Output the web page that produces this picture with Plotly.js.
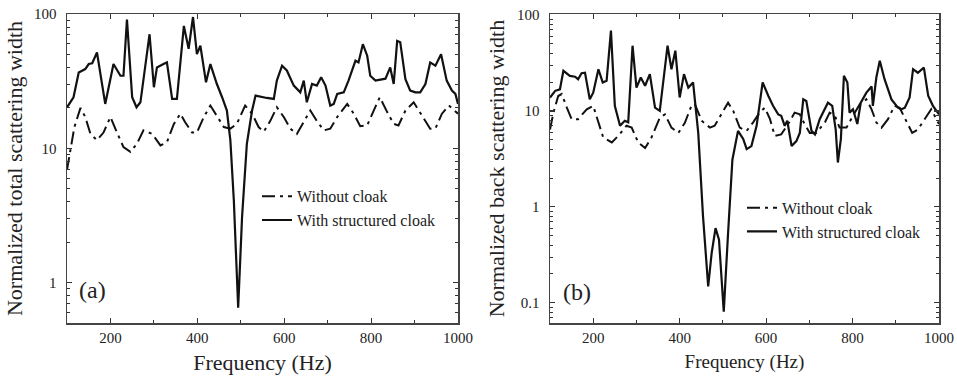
<!DOCTYPE html>
<html><head><meta charset="utf-8">
<script src="https://cdn.plot.ly/plotly-3.0.1.min.js"></script>
<style>body{margin:0;background:#fff}#chart{width:957px;height:377px}</style>
</head><body><div id="chart"></div><script>
// Panel (a): normalized total scattering width
const totFreqWith = [100,115,127,142,150,158,169,188,207,223,230,238,250,260,269,290,300,307,322,330,342,353,369,380,390,399,407,420,430,445,457,468,476,484,494,503,514,526,534,549,560,576,583,595,606,622,637,645,652,664,675,685,695,706,714,722,737,748,764,771,781,791,798,810,825,833,844,852,860,867,879,890,902,913,925,936,948,961,974,986,994,1000];
const totWith = [20.2,24,36.7,38.9,42.4,43,51.7,21.4,42.4,34.7,34.7,91,24,20.2,22,70.7,28.5,40,42.4,43.6,23.3,23.3,81.5,55,95,50.2,58,31,42.4,30.1,24,19.1,11.5,4.1,0.65,3.1,10.8,19.1,24.7,24,23.7,23.3,31.9,41.2,38,29.3,26.1,31.9,22,30.1,29.3,33.8,29.3,20.8,21.4,25.4,26.1,31.9,44.9,43.6,59.6,48.9,34.7,31.9,32.7,33,40,30.1,63.1,61.7,32.7,26.9,26.1,26.1,30.1,43.6,41.2,50.2,31.9,26.9,25.4,21.4];
const totFreqWithout = [100,109,117,131,142,154,169,184,200,215,230,246,261,276,296,315,330,346,361,372,388,399,415,430,445,461,476,491,510,526,541,553,568,583,599,614,629,645,660,675,691,706,722,745,760,775,791,806,820,837,852,863,879,898,917,936,948,963,979,1000];
const totWithout = [6.9,10.2,14.4,20,17.1,12.8,11.5,13.1,17.1,13.1,10.2,9.4,10.8,13.6,12.8,10.5,11.1,15.2,18.1,15.6,13.1,13.1,17.1,20.8,17.6,14.4,14,15.2,20.8,18.1,14.4,13.3,16,20.2,17.1,14,12.8,15.6,19.1,16,13.6,14,17.1,21.4,18.1,14.6,14.8,19.1,24,18.6,15.2,14.8,19.1,22,17.6,14,14,18.1,20.8,18.1];

// Panel (b): normalized back scattering width
const backFreqWith = [100,112,123,131,146,158,165,173,181,192,200,212,222,231,241,250,262,273,281,291,300,310,320,331,343,354,372,381,390,400,410,420,431,443,454,466,474,483,491,502,512,522,535,547,555,566,578,592,605,616,628,635,643,649,659,670,678,686,693,705,713,724,743,753,761,766,773,780,788,793,801,811,819,832,844,847,855,863,874,890,905,913,921,932,940,951,965,975,986,1000];
const backWith = [13.8,16.2,16.8,26.2,23.2,22.7,21.4,24.7,25,13.2,15.5,27.2,19.8,20.6,68.6,11.3,7,7.9,7.6,47.8,17.5,22.3,18.3,24.2,10.8,10,47.8,27.2,42.4,13.8,24.2,17.5,19.8,5.9,0.8,0.148,0.33,0.6,0.455,0.081,0.535,3.1,6.2,5.1,4,4.3,7,19.8,14.4,11.3,9.2,8.9,7,7.9,4.3,4.85,5.9,13.2,12.7,6.2,5.7,8.2,12.2,11.3,6.4,2.9,5.1,23.2,19.8,9.6,10.4,7.3,12.2,15.5,18,11.3,22.3,33.3,21.4,13.2,10.8,10.4,10.8,13.8,27.2,25,28.3,14.4,11.3,9.2];
const backFreqWithout = [100,108,119,127,139,150,165,185,200,212,223,243,258,277,289,304,320,335,354,366,381,397,412,427,435,451,470,481,497,512,524,539,555,570,585,597,609,620,635,651,666,678,689,701,716,736,747,759,770,786,801,817,832,844,855,867,882,897,909,924,938,951,967,982,1000];
const backWithout = [6.4,9.6,14.3,15,10.8,8.2,8.2,10.4,11.3,7.6,5.3,4.7,5.5,7,6.7,4.7,4.1,5.3,8.5,9.2,6.7,5.9,7.5,11.3,11.8,7.9,6.7,7,9.2,12.2,10,6.7,6.2,7.6,9.6,10.8,8.2,5.5,5.7,7.3,9.6,9.2,7.3,5.9,5.9,7.6,9.6,8.9,6.7,6.7,8.9,11.8,13.2,10.4,7.6,6.7,8.2,11.3,10.8,7.9,5.9,6.4,8.2,10.4,7.3];

const legendNames = ['Without cloak', 'With structured cloak'];
const xTickVals = [200, 400, 600, 800, 1000];
const panelLabels = ['(a)', '(b)'];

const FONT = 'Liberation Serif, Times New Roman, serif';
const DASHDOT = '13px,5px,3px,5px';

const traces = [
  {x: totFreqWithout, y: totWithout, name: legendNames[0], mode: 'lines', xaxis: 'x', yaxis: 'y', legend: 'legend',
   line: {color: '#111', width: 2, dash: DASHDOT}},
  {x: totFreqWith, y: totWith, name: legendNames[1], mode: 'lines', xaxis: 'x', yaxis: 'y', legend: 'legend',
   line: {color: '#111', width: 2.2}},
  {x: backFreqWithout, y: backWithout, name: legendNames[0], mode: 'lines', xaxis: 'x2', yaxis: 'y2', legend: 'legend2',
   line: {color: '#111', width: 2, dash: DASHDOT}},
  {x: backFreqWith, y: backWith, name: legendNames[1], mode: 'lines', xaxis: 'x2', yaxis: 'y2', legend: 'legend2',
   line: {color: '#111', width: 2.2}}
];

function xAxis(domain, titleSize) {
  return {
    domain: domain, range: [100, 1000], tickvals: xTickVals, ticktext: xTickVals.map(String),
    ticks: 'inside', ticklen: 5, tickwidth: 1.2, tickcolor: '#333',
    minor: {ticks: 'inside', ticklen: 3, tickvals: [300, 500, 700, 900], tickcolor: '#333', tickwidth: 1},
    showline: true, linecolor: '#444', linewidth: 1.5, mirror: 'ticks', showgrid: false, zeroline: false,
    tickfont: {family: FONT, size: 15, color: '#222'},
    title: {text: 'Frequency (Hz)', font: {family: FONT, size: titleSize, color: '#222'}, standoff: 10},
    automargin: false
  };
}
function yAxis(range, title, anchor, standoff) {
  return {
    type: 'log', range: range, dtick: 1, anchor: anchor,
    ticks: 'inside', ticklen: 5, tickwidth: 1.2, tickcolor: '#333',
    minor: {ticks: 'inside', ticklen: 3, dtick: 'D1', tickcolor: '#333', tickwidth: 1},
    showline: true, linecolor: '#444', linewidth: 1.5, mirror: 'ticks', showgrid: false, zeroline: false,
    tickfont: {family: FONT, size: 15, color: '#222'}, ticklabelstandoff: 6,
    title: {text: title, font: {family: FONT, size: 22, color: '#222'}, standoff: standoff},
    automargin: false
  };
}

const layout = {
  width: 957, height: 377,
  margin: {l: 0, r: 0, t: 14, b: 54},
  paper_bgcolor: '#fff', plot_bgcolor: '#fff',
  font: {family: FONT, color: '#222'},
  xaxis: Object.assign(xAxis([67/957, 458/957], 22), {anchor: 'y'}),
  yaxis: yAxis([Math.log10(0.5), 2], 'Normalized total scattering width', 'x', 5),
  xaxis2: Object.assign(xAxis([550/957, 939/957], 19), {anchor: 'y2'}),
  yaxis2: yAxis([-1.21, 2.01], 'Normalized back scattering width', 'x2', 6),
  showlegend: true,
  legend: {x: 257/957, xanchor: 'left', y: 0.465, yanchor: 'top', bgcolor: 'rgba(0,0,0,0)',
    font: {family: FONT, size: 16, color: '#222'}, tracegroupgap: 0, itemwidth: 30},
  legend2: {x: 742/957, xanchor: 'left', y: 0.428, yanchor: 'top', bgcolor: 'rgba(0,0,0,0)',
    font: {family: FONT, size: 16, color: '#222'}, tracegroupgap: 0, itemwidth: 30},
  annotations: [
    {text: panelLabels[0], xref: 'paper', yref: 'paper', x: 77/957, y: (323-290)/309, xanchor: 'left', yanchor: 'middle',
     showarrow: false, font: {family: FONT, size: 24, color: '#222'}},
    {text: panelLabels[1], xref: 'paper', yref: 'paper', x: 561/957, y: (323-292)/309, xanchor: 'left', yanchor: 'middle',
     showarrow: false, font: {family: FONT, size: 24, color: '#222'}}
  ]
};

Plotly.newPlot('chart', traces, layout, {staticPlot: true, displayModeBar: false});
</script></body></html>
